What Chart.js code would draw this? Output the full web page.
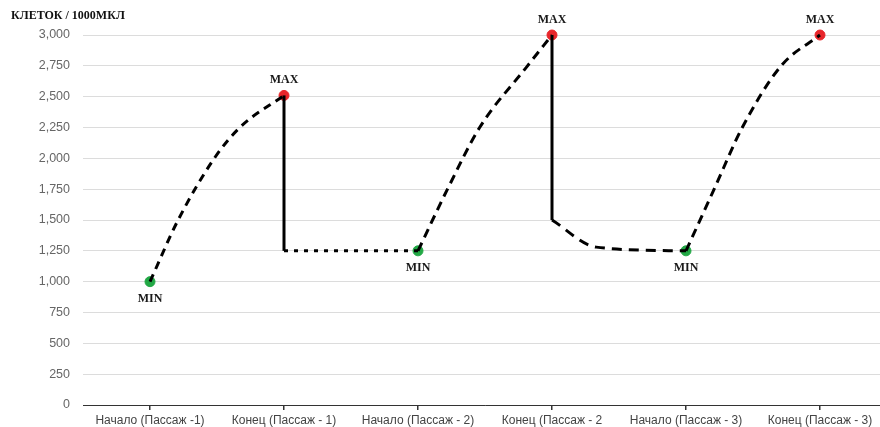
<!DOCTYPE html>
<html>
<head>
<meta charset="utf-8">
<script src="https://cdn.jsdelivr.net/npm/chart.js@4"></script>
<style>
  body { margin: 0; overflow: hidden; background: #fff; }
  #wrap { width: 893px; height: 427px; }
</style>
</head>
<body>
<div id="wrap"><canvas id="cellChart" width="893" height="427"></canvas></div>
<script>
const CATEGORIES = ['Начало (Пассаж -1)', 'Конец (Пассаж - 1)', 'Начало (Пассаж - 2)', 'Конец (Пассаж - 2', 'Начало (Пассаж - 3)', 'Конец (Пассаж - 3)'];
const Y_TITLE = 'КЛЕТОК / 1000МКЛ';

// [category position, cells] pairs
const growth1 = [[0, 1000], [0.21, 1500], [0.48, 2000], [0.67, 2250], [1, 2510]];
const drop1 = [[1, 2510], [1, 1250]];
const hold1 = [[1, 1250], [2, 1250]];
const growth2 = [[2, 1250], [2.22, 1750], [2.46, 2250], [2.81, 2740], [3, 3000]];
const drop2 = [[3, 3000], [3, 1500]];
const hold2 = [[3, 1500], [3.33, 1280], [4, 1250]];
const growth3 = [[4, 1250], [4.21, 1750], [4.42, 2250], [4.71, 2750], [5, 3000]];

const minX = [0, 2, 4], minY = [1000, 1250, 1250];
const maxX = [1, 3, 5], maxY = [2510, 3000, 3000];

const pts = arr => arr.map(p => ({ x: p[0], y: p[1] }));

function seg(data, dash) {
    return {
        data: pts(data), borderColor: '#000', borderWidth: 3, borderDash: dash,
        borderCapStyle: 'butt', pointRadius: 0, cubicInterpolationMode: 'monotone',
        clip: false, order: 0
    };
}

const markerLabels = {
    id: 'markerLabels',
    afterDatasetsDraw(chart) {
        const ctx = chart.ctx;
        ctx.save();
        ctx.font = 'bold 12px "Liberation Serif"';
        ctx.fillStyle = '#1a1a1a';
        ctx.textAlign = 'center';
        chart.data.datasets.forEach((ds, i) => {
            if (!ds.tag) return;
            chart.getDatasetMeta(i).data.forEach(el => {
                if (ds.tag === 'MAX') ctx.fillText('MAX', el.x, el.y - 12);
                else ctx.fillText('MIN', el.x, el.y + 20);
            });
        });
        ctx.restore();
    }
};

new Chart(document.getElementById('cellChart'), {
    type: 'line',
    data: {
        datasets: [
            seg(growth1, [8, 6]),
            seg(drop1, []),
            seg(hold1, [4, 6]),
            seg(growth2, [9, 6]),
            seg(drop2, []),
            seg(hold2, [10, 7]),
            seg(growth3, [9, 6]),
            { tag: 'MIN', data: minX.map((x, i) => ({ x, y: minY[i] })), showLine: false, pointRadius: 5,
              pointBackgroundColor: '#22a845', pointBorderColor: '#22a845', clip: false, order: 1 },
            { tag: 'MAX', data: maxX.map((x, i) => ({ x, y: maxY[i] })), showLine: false, pointRadius: 5,
              pointBackgroundColor: '#e8262b', pointBorderColor: '#e8262b', clip: false, order: 1 }
        ]
    },
    options: {
        responsive: false, animation: false, locale: 'en-US',
        layout: { padding: { left: 11, right: 0, top: 0, bottom: 0 } },
        plugins: {
            legend: { display: false }, tooltip: { enabled: false },
            title: { display: true, text: Y_TITLE, align: 'start', color: '#111',
                     font: { family: '"Liberation Serif"', size: 12, weight: 'bold' },
                     padding: { top: 9, bottom: 11.6 } }
        },
        scales: {
            x: {
                type: 'linear', min: -0.5, max: 5.5,
                afterBuildTicks: s => { s.ticks = CATEGORIES.map((_, i) => ({ value: i })); },
                afterFit: s => { s.height = 22; s.paddingLeft = 0; s.paddingRight = 0; },
                ticks: { autoSkip: false, maxRotation: 0, padding: 3, color: '#444',
                         font: { family: '"Liberation Sans"', size: 12 },
                         callback: v => CATEGORIES[v] ?? '' },
                grid: { drawOnChartArea: false, tickLength: 5, color: '#333', lineWidth: 1.5 },
                border: { color: '#333', width: 1 }
            },
            y: {
                min: 0, max: 3000,
                afterFit: s => { s.width = 72; },
                ticks: { stepSize: 250, padding: 13, color: '#666', font: { family: '"Liberation Sans"', size: 12.5 } },
                grid: { color: '#dcdcdc', drawTicks: false },
                border: { display: false }
            }
        }
    },
    plugins: [markerLabels]
});
</script>
</body>
</html>
